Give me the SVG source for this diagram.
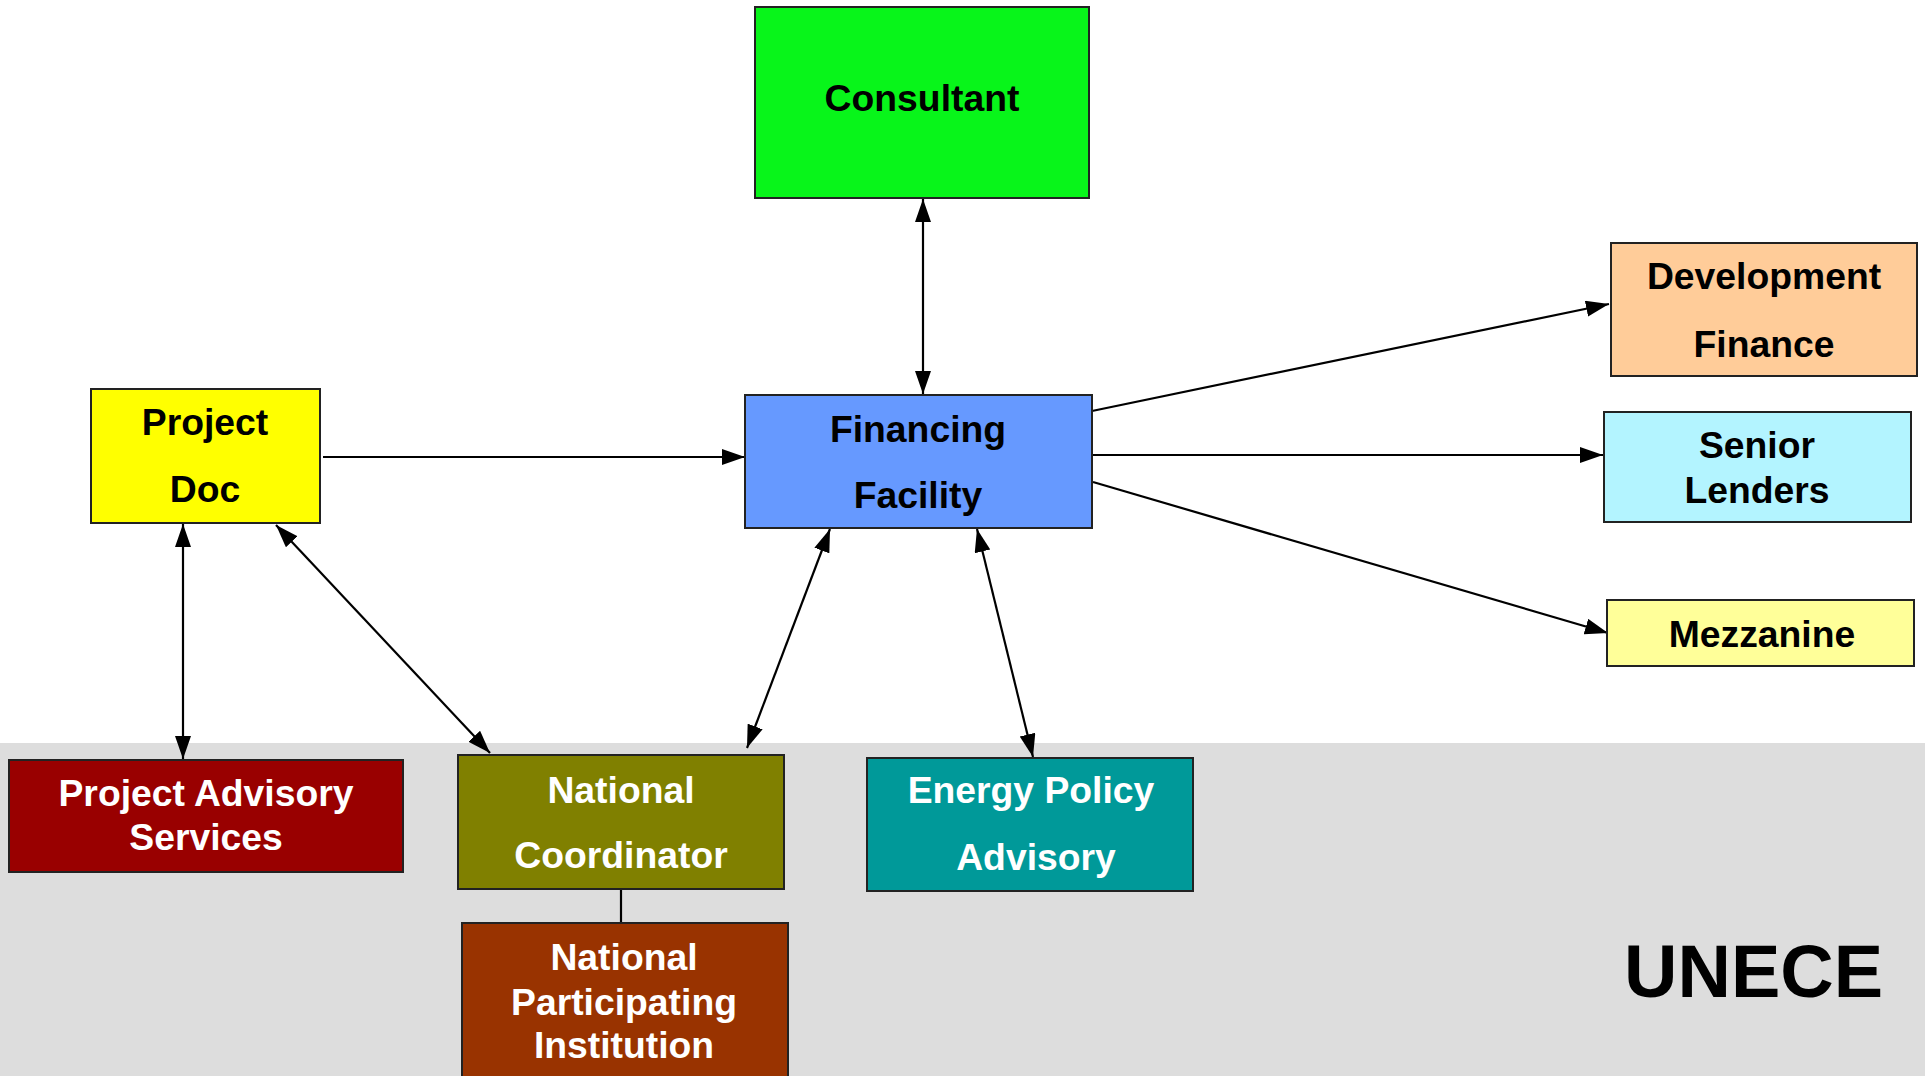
<svg xmlns="http://www.w3.org/2000/svg" width="1925" height="1076" viewBox="0 0 1925 1076">
<defs>
<marker id="arr" markerUnits="userSpaceOnUse" markerWidth="24" markerHeight="17" refX="23" refY="8" orient="auto-start-reverse" viewBox="0 0 24 17">
<path d="M0,0 L23,8 L0,16 z" fill="#000"/>
</marker>
<style>
.box{stroke:#222;stroke-width:2}
.t{font-family:"Liberation Sans",Arial,sans-serif;font-weight:bold;font-size:37.3px;text-anchor:middle}
.d{fill:#000}
.w{fill:#fff}
.c{stroke:#000;stroke-width:2.2;fill:none}
</style>
</defs>
<rect x="0" y="0" width="1925" height="1076" fill="#fff"/>
<rect x="0" y="743" width="1925" height="333" fill="#dddddd"/>
<g id="connectors">
<line class="c" x1="923" y1="199" x2="923" y2="394" marker-start="url(#arr)" marker-end="url(#arr)"/>
<line class="c" x1="323" y1="457" x2="745" y2="457" marker-end="url(#arr)"/>
<line class="c" x1="183" y1="524" x2="183" y2="759" marker-start="url(#arr)" marker-end="url(#arr)"/>
<line class="c" x1="276" y1="525" x2="490" y2="753" marker-start="url(#arr)" marker-end="url(#arr)"/>
<line class="c" x1="830" y1="529" x2="747" y2="748" marker-start="url(#arr)" marker-end="url(#arr)"/>
<line class="c" x1="977" y1="529" x2="1033" y2="757" marker-start="url(#arr)" marker-end="url(#arr)"/>
<line class="c" x1="1092" y1="411" x2="1609" y2="304" marker-end="url(#arr)"/>
<line class="c" x1="1092" y1="455" x2="1603" y2="455" marker-end="url(#arr)"/>
<line class="c" x1="1093" y1="482" x2="1608" y2="633" marker-end="url(#arr)"/>
<line class="c" x1="621" y1="889" x2="621" y2="923"/>
</g>
<g id="consultant">
<rect class="box" x="755" y="7" width="334" height="191" fill="#08f51a"/>
<text class="t d" x="922" y="111">Consultant</text>
</g>
<g id="project-doc">
<rect class="box" x="91" y="389" width="229" height="134" fill="#ffff00"/>
<text class="t d" x="205" y="435">Project</text>
<text class="t d" x="205" y="502">Doc</text>
</g>
<g id="financing-facility">
<rect class="box" x="745" y="395" width="347" height="133" fill="#6699ff"/>
<text class="t d" x="918" y="442">Financing</text>
<text class="t d" x="918" y="508">Facility</text>
</g>
<g id="development-finance">
<rect class="box" x="1611" y="243" width="306" height="133" fill="#ffcc99"/>
<text class="t d" x="1764" y="289">Development</text>
<text class="t d" x="1764" y="357">Finance</text>
</g>
<g id="senior-lenders">
<rect class="box" x="1604" y="412" width="307" height="110" fill="#b3f4ff"/>
<text class="t d" x="1757" y="458">Senior</text>
<text class="t d" x="1757" y="503">Lenders</text>
</g>
<g id="mezzanine">
<rect class="box" x="1607" y="600" width="307" height="66" fill="#ffff99"/>
<text class="t d" x="1762" y="647">Mezzanine</text>
</g>
<g id="project-advisory-services">
<rect class="box" x="9" y="760" width="394" height="112" fill="#990000"/>
<text class="t w" x="206" y="806">Project Advisory</text>
<text class="t w" x="206" y="850">Services</text>
</g>
<g id="national-coordinator">
<rect class="box" x="458" y="755" width="326" height="134" fill="#808000"/>
<text class="t w" x="621" y="803">National</text>
<text class="t w" x="621" y="868">Coordinator</text>
</g>
<g id="national-participating-institution">
<rect class="box" x="462" y="923" width="326" height="160" fill="#993300"/>
<text class="t w" x="624" y="970">National</text>
<text class="t w" x="624" y="1015">Participating</text>
<text class="t w" x="624" y="1058">Institution</text>
</g>
<g id="energy-policy-advisory">
<rect class="box" x="867" y="758" width="326" height="133" fill="#009999"/>
<text class="t w" x="1031" y="803">Energy Policy</text>
<text class="t w" x="1036" y="870">Advisory</text>
</g>
<g id="unece">
<text x="1624" y="997" font-family="Liberation Sans, Arial, sans-serif" font-weight="bold" font-size="74" fill="#000">UNECE</text>
</g>
</svg>
